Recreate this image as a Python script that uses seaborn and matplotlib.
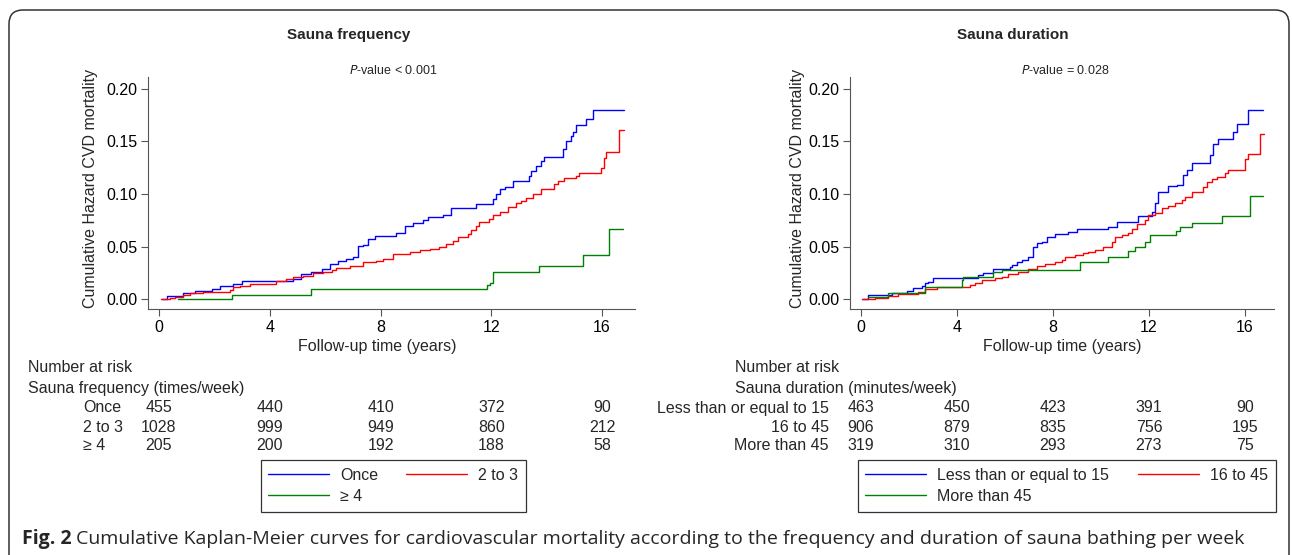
import numpy as np
import pandas as pd
import matplotlib
matplotlib.use("Agg")
import matplotlib.pyplot as plt
import seaborn as sns
from matplotlib.patches import FancyBboxPatch
from matplotlib.transforms import blended_transform_factory, IdentityTransform

W, H = 1292, 555

# cumulative hazard curves (time in years, hazard)
# sauna frequency
once_t = [0.10, 0.28, 0.88, 1.30, 1.90, 2.20, 2.68, 2.98, 4.84, 5.14, 5.50, 5.87, 6.17, 6.47, 6.77, 7.01,
          7.19, 7.37, 7.55, 7.79, 8.57, 8.87, 9.17, 9.53, 9.71, 10.25, 10.55, 11.45, 12.06, 12.18, 12.30,
          12.48, 12.78, 13.38, 13.44, 13.62, 13.80, 13.92, 14.58, 14.70, 14.88, 14.94, 15.06, 15.42, 15.66, 16.80]
once_h = [0.000, 0.0035, 0.006, 0.008, 0.0098, 0.0123, 0.0145, 0.0174, 0.019, 0.024, 0.026, 0.029, 0.0335,
          0.036, 0.038, 0.040, 0.051, 0.052, 0.057, 0.060, 0.0626, 0.070, 0.072, 0.075, 0.078, 0.080, 0.087,
          0.090, 0.095, 0.100, 0.105, 0.107, 0.1125, 0.117, 0.122, 0.127, 0.131, 0.135, 0.1425, 0.150, 0.155,
          0.159, 0.165, 0.1716, 0.1795, 0.1795]
two3_t = [0.06, 0.40, 0.58, 0.88, 1.12, 1.60, 2.56, 2.68, 2.92, 3.28, 4.24, 4.60, 4.84, 5.20, 5.56, 5.93,
          6.23, 6.41, 6.89, 7.37, 7.85, 8.09, 8.45, 9.05, 9.41, 9.77, 10.13, 10.37, 10.61, 10.79, 11.15,
          11.27, 11.45, 11.57, 11.93, 12.06, 12.30, 12.60, 12.90, 13.08, 13.26, 13.50, 13.80, 14.28, 14.40,
          14.64, 15.06, 15.18, 15.96, 16.08, 16.14, 16.62, 16.80]
two3_h = [0.000, 0.001, 0.0025, 0.0044, 0.006, 0.0073, 0.0092, 0.0114, 0.013, 0.0145, 0.0174, 0.019, 0.0215,
          0.0224, 0.0246, 0.026, 0.028, 0.0297, 0.032, 0.035, 0.0367, 0.038, 0.043, 0.0446, 0.0468, 0.0477,
          0.050, 0.0525, 0.0556, 0.0588, 0.062, 0.0657, 0.070, 0.073, 0.076, 0.080, 0.0825, 0.088, 0.091,
          0.0935, 0.096, 0.100, 0.1046, 0.1093, 0.1125, 0.115, 0.117, 0.1195, 0.125, 0.134, 0.140, 0.1605, 0.1605]
four_t = [0.70, 2.64, 5.50, 11.85, 11.96, 12.06, 13.74, 15.30, 16.24, 16.77]
four_h = [0.000, 0.0044, 0.0098, 0.0136, 0.0155, 0.0256, 0.0313, 0.0423, 0.0664, 0.0664]

# sauna duration
le15_t = [0.06, 0.28, 1.28, 1.90, 2.18, 2.53, 2.67, 2.81, 3.01, 4.89, 5.10, 5.51, 6.21, 6.28, 6.49, 6.69,
          6.97, 7.18, 7.32, 7.53, 7.74, 8.08, 8.64, 8.99, 10.31, 10.65, 11.56, 12.11, 12.25, 12.39, 12.81,
          13.15, 13.43, 13.57, 13.78, 14.54, 14.68, 14.89, 15.51, 15.65, 16.14, 16.76]
le15_h = [0.000, 0.0041, 0.0057, 0.0082, 0.0104, 0.0126, 0.0152, 0.0167, 0.020, 0.023, 0.025, 0.029, 0.031,
          0.0326, 0.035, 0.037, 0.040, 0.050, 0.053, 0.0547, 0.0594, 0.0616, 0.0635, 0.0664, 0.069, 0.0736,
          0.079, 0.083, 0.091, 0.102, 0.1075, 0.1084, 0.118, 0.1226, 0.1296, 0.137, 0.147, 0.152, 0.159,
          0.166, 0.180, 0.180]
m1645_t = [0.06, 0.58, 1.14, 1.56, 2.39, 2.67, 3.15, 4.54, 4.75, 5.03, 5.58, 5.86, 6.14, 6.56, 6.97, 7.32,
           7.67, 8.08, 8.36, 8.50, 8.92, 9.26, 9.47, 9.75, 10.10, 10.44, 10.58, 10.86, 11.14, 11.28, 11.49,
           11.83, 11.97, 12.25, 12.53, 12.81, 13.08, 13.36, 13.50, 13.78, 14.26, 14.40, 14.61, 14.82, 15.17,
           15.31, 16.00, 16.14, 16.63, 16.81]
m1645_h = [0.000, 0.0016, 0.0035, 0.005, 0.0073, 0.0098, 0.012, 0.0136, 0.0158, 0.0183, 0.020, 0.0215, 0.024,
           0.026, 0.029, 0.0316, 0.0335, 0.035, 0.037, 0.040, 0.042, 0.0436, 0.045, 0.047, 0.050, 0.054,
           0.0594, 0.061, 0.063, 0.067, 0.0714, 0.075, 0.080, 0.082, 0.087, 0.089, 0.091, 0.094, 0.097, 0.102,
           0.107, 0.1115, 0.114, 0.116, 0.1195, 0.1226, 0.133, 0.138, 0.157, 0.157]
gt45_t = [0.29, 1.14, 2.67, 4.22, 4.26, 5.51, 5.86, 9.13, 10.31, 11.14, 11.42, 11.83, 12.04, 13.11, 13.29,
          13.78, 15.03, 16.21, 16.76]
gt45_h = [0.0025, 0.0057, 0.012, 0.0183, 0.0215, 0.0256, 0.028, 0.0357, 0.040, 0.046, 0.050, 0.054, 0.0613,
          0.065, 0.069, 0.0724, 0.0793, 0.098, 0.098]

freq_groups = ["Once", "2 to 3", "≥ 4"]
dur_groups = ["Less than or equal to 15", "16 to 45", "More than 45"]
risk_years = [0, 4, 8, 12, 16]
once_risk = [455, 440, 410, 372, 90]
two3_risk = [1028, 999, 949, 860, 212]
four_risk = [205, 200, 192, 188, 58]
le15_risk = [463, 450, 423, 391, 90]
m1645_risk = [906, 879, 835, 756, 195]
gt45_risk = [319, 310, 293, 273, 75]
colors = ["#0000ff", "#ff0000", "#008000"]


def long_df(groups, curves):
    parts = [pd.DataFrame({"time": t, "hazard": h, "group": g}) for g, (t, h) in zip(groups, curves)]
    return pd.concat(parts, ignore_index=True)


freq_df = long_df(freq_groups, [(once_t, once_h), (two3_t, two3_h), (four_t, four_h)])
dur_df = long_df(dur_groups, [(le15_t, le15_h), (m1645_t, m1645_h), (gt45_t, gt45_h)])

sns.set_style("ticks")
plt.rcParams["font.family"] = ["Liberation Sans", "DejaVu Sans"]

fs = 11.5
gray = "#555555"


def fx(px):
    return px / W


def fy(py):
    return 1 - py / H


fig = plt.figure(figsize=(W / 100, H / 100), dpi=100)

# outer rounded frame
frame = FancyBboxPatch((9, -100), 1280, 545 + 100, boxstyle="round,pad=0,rounding_size=14",
                       fill=False, edgecolor="#333333", linewidth=1.1, transform=IdentityTransform())
fig.add_artist(frame)

panels = [
    dict(df=freq_df, groups=freq_groups, left=148, right=635, x0px=159, pxyr=27.69,
         title="Sauna frequency", tx=349, pval="< 0.001", px=393, ylab_x=90.7, xlab_x=377.5,
         head="Sauna frequency (times/week)", head_x=28, lab_x=83, lab_ha="left",
         risks=[once_risk, two3_risk, four_risk], leg_x=260.5, colsp=1.75),
    dict(df=dur_df, groups=dur_groups, left=850, right=1274, x0px=861, pxyr=24.0,
         title="Sauna duration", tx=1013, pval="= 0.028", px=1065, ylab_x=797, xlab_x=1062.5,
         head="Sauna duration (minutes/week)", head_x=735, lab_x=829, lab_ha="right",
         risks=[le15_risk, m1645_risk, gt45_risk], leg_x=857.5, colsp=1.8),
]

for p in panels:
    ax = fig.add_axes([fx(p["left"]), fy(309), fx(p["right"]) - fx(p["left"]), (309 - 77) / H])
    sns.lineplot(data=p["df"], x="time", y="hazard", hue="group", hue_order=p["groups"],
                 palette=colors, drawstyle="steps-post", estimator=None, sort=False,
                 linewidth=1.0, legend=False, ax=ax)
    ax.set_xlim(-(p["x0px"] - p["left"]) / p["pxyr"], (p["right"] - p["x0px"]) / p["pxyr"])
    ax.set_ylim(-0.0092, 0.211)
    ax.set_xticks(risk_years)
    ax.set_yticks([0, 0.05, 0.10, 0.15, 0.20])
    ax.set_yticklabels(["0.00", "0.05", "0.10", "0.15", "0.20"])
    ax.tick_params(axis="both", length=5, width=0.8, color=gray, labelsize=fs, labelcolor="black")
    ax.tick_params(axis="y", pad=2.5)
    ax.tick_params(axis="x", pad=3)
    for s in ["top", "right"]:
        ax.spines[s].set_visible(False)
    for s in ["left", "bottom"]:
        ax.spines[s].set_color(gray)
        ax.spines[s].set_linewidth(0.8)
    ax.set_facecolor("white")

    ax.set_ylabel("Cumulative Hazard CVD mortality", fontsize=fs)
    ax.yaxis.set_label_coords((p["ylab_x"] - p["left"]) / (p["right"] - p["left"]), 0.52)
    ax.yaxis.label.set_va("center")
    ax.set_xlabel("Follow-up time (years)", fontsize=fs)
    ax.xaxis.set_label_coords((p["xlab_x"] - p["left"]) / (p["right"] - p["left"]), (309 - 347) / 232)
    ax.xaxis.label.set_va("center")

    # titles
    fig.text(fx(p["tx"]), fy(35), p["title"], fontsize=11, fontweight="bold", ha="center", va="center")
    fig.text(fx(p["px"]), fy(70), r"$\it{P}$-value " + p["pval"], fontsize=9, ha="center", va="center")

    # number at risk table
    fig.text(fx(p["head_x"]), fy(368), "Number at risk", fontsize=fs, ha="left", va="center")
    fig.text(fx(p["head_x"]), fy(388), p["head"], fontsize=fs, ha="left", va="center")
    trans = blended_transform_factory(ax.transData, fig.transFigure)
    for row_y, g, counts in zip([408, 427, 446], p["groups"], p["risks"]):
        fig.text(fx(p["lab_x"]), fy(row_y), g, fontsize=fs, ha=p["lab_ha"], va="center")
        for yr, n in zip(risk_years, counts):
            ax.text(yr, fy(row_y), str(n), transform=trans, fontsize=fs, ha="center", va="center",
                    clip_on=False)

    lines = ax.get_lines()
    handles = [lines[0], lines[2], lines[1]]
    labels = [p["groups"][0], p["groups"][2], p["groups"][1]]
    leg = fig.legend(handles, labels, loc="upper left", bbox_to_anchor=(fx(p["leg_x"]), fy(460)),
                     ncol=2, fontsize=fs, frameon=True, fancybox=False, edgecolor="black",
                     borderaxespad=0, borderpad=0.5, handlelength=3.8, handletextpad=0.7,
                     columnspacing=p["colsp"], labelspacing=0.35)
    leg.get_frame().set_linewidth(0.9)

# caption
t1 = fig.text(fx(22), fy(539), "Fig. 2", fontsize=14, fontweight="bold", family="Open Sans",
              ha="left", va="center")
fig.axes[0].annotate("Cumulative Kaplan-Meier curves for cardiovascular mortality according to the "
                     "frequency and duration of sauna bathing per week",
                     xy=(1, 0.5), xycoords=t1, xytext=(3, 0), textcoords="offset points",
                     fontsize=14, family="Open Sans", ha="left", va="center", annotation_clip=False)

fig.savefig("out.png", dpi=100)
